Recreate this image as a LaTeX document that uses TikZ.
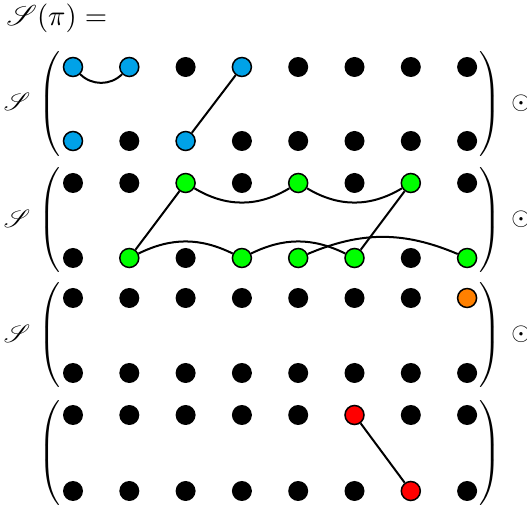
\documentclass[tikz,border=0pt]{standalone}
\usepackage{mathrsfs}
\definecolor{dotblue}{RGB}{0,162,232}
\definecolor{dotgreen}{RGB}{0,255,0}
\definecolor{dotorange}{RGB}{255,128,0}
\definecolor{dotred}{RGB}{255,0,0}
\tikzset{
  k/.style={circle, fill=black, inner sep=0pt, minimum size=8pt},
  col/.style={circle, draw=black, line width=0.6pt, inner sep=0pt, minimum size=7.6pt},
  b/.style={col, fill=dotblue},
  g/.style={col, fill=dotgreen},
  o/.style={col, fill=dotorange},
  r/.style={col, fill=dotred},
  link/.style={line width=0.8pt},
  lpar/.style={inner sep=0pt},
  lab/.style={inner sep=0pt}
}
\newcommand{\tallL}{$\delimitershortfall=0pt\delimiterfactor=1000\left(\vcenter{\hbox{\vrule height 21pt depth 21pt width 0pt}}\right.$}
\newcommand{\tallR}{$\delimitershortfall=0pt\delimiterfactor=1000\left.\vcenter{\hbox{\vrule height 21pt depth 21pt width 0pt}}\right)$}
\begin{document}
\begin{tikzpicture}[x=0.4pt,y=-0.4pt]
\useasboundingbox (0,0) rectangle (527,505);
% title
\node[lab, anchor=base west, scale=1.15] (title) at (6,25.5) {$\mathscr{S}(\pi) =$};
% dots
\foreach \r/\y/\lst in {
  1t/67/{b,b,k,b,k,k,k,k},
  1b/141/{b,k,b,k,k,k,k,k},
  2t/183/{k,k,g,k,g,k,g,k},
  2b/258/{k,g,k,g,g,g,k,g},
  3t/298/{k,k,k,k,k,k,k,o},
  3b/373/{k,k,k,k,k,k,k,k},
  4t/415/{k,k,k,k,k,r,k,k},
  4b/491/{k,k,k,k,k,k,r,k}}{
  \foreach \s [count=\i] in \lst {
    \node[\s] (d\r\i) at ({73+56.3*(\i-1)},\y) {};
  }
}
% parentheses, labels, odot
\foreach \n/\m in {1/104,2/220.5,3/335.5,4/453}{
  \node[lpar] (lp\n) at (51,\m) {\tallL};
  \node[lpar] (rp\n) at (489,\m) {\tallR};
}
\foreach \n/\m in {1/104,2/220.5,3/335.5}{
  \node[lab] (S\n) at (17,\m-2) {$\mathscr{S}$};
  \node[lab] (od\n) at (521,\m-1) {$\odot$};
}
% links
\draw[link] (d1t1) to[out=-45,in=-135] (d1t2);
\draw[link] (d1t4) -- (d1b3);
\draw[link] (d2t3) to[out=-31,in=-149] (d2t5);
\draw[link] (d2t5) to[out=-31,in=-149] (d2t7);
\draw[link] (d2t3) -- (d2b2);
\draw[link] (d2t7) -- (d2b6);
\draw[link] (d2b2) to[out=26,in=154] (d2b4);
\draw[link] (d2b4) to[out=26,in=154] (d2b6);
\draw[link] (d2b5) to[out=23,in=157] (d2b8);
\draw[link] (d4t6) -- (d4b7);
\end{tikzpicture}
\end{document}
